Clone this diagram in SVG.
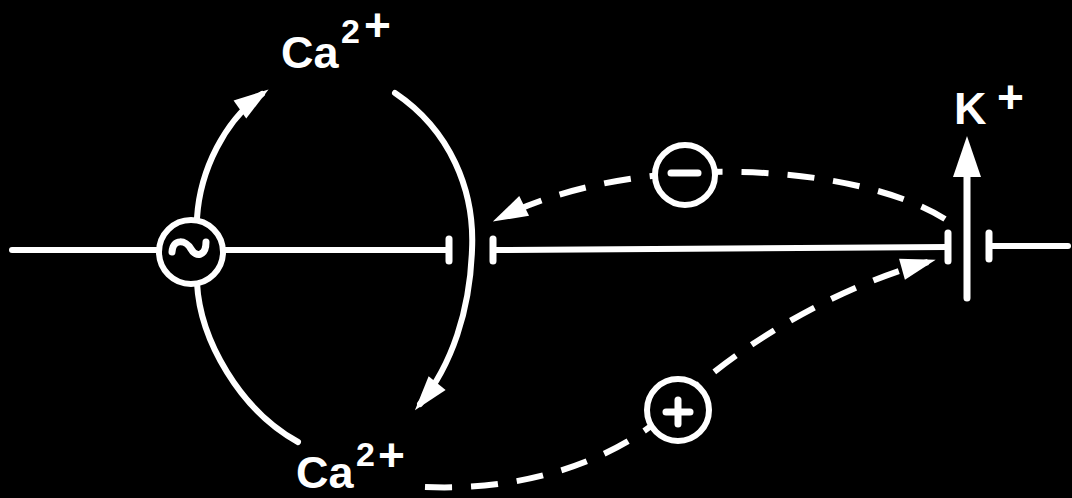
<svg xmlns="http://www.w3.org/2000/svg" width="1072" height="498" viewBox="0 0 1072 498">
<style>
.ln{fill:none;stroke:#fff;stroke-width:6;stroke-linecap:round}
.bar{fill:none;stroke:#fff;stroke-width:7;stroke-linecap:round}
.dash{fill:none;stroke:#fff;stroke-width:6;stroke-dasharray:27 19}
.node{fill:#000;stroke:#fff;stroke-width:6}
.sym{fill:none;stroke:#fff;stroke-width:7;stroke-linecap:round}
.lbl{fill:#fff;font-family:"Liberation Sans",Arial,sans-serif;font-weight:bold}
.big{font-size:45px}
.sup{font-size:34px}
.pl{font-size:46px}
</style>
<defs>
<marker id="ah" markerUnits="userSpaceOnUse" viewBox="-30 -15 40 30" markerWidth="40" markerHeight="30" refX="0" refY="0" orient="auto" overflow="visible">
<path d="M8,0 L-27,-11 L-27,11 Z" fill="#fff"/>
</marker>
</defs>
<rect width="1072" height="498" fill="#000"/>
<g id="connectors">
<line class="ln" x1="12" y1="250" x2="159" y2="250"/>
<line class="ln" x1="223" y1="250" x2="449" y2="250"/>
<line class="bar" x1="449" y1="239" x2="449" y2="261"/>
<line class="bar" x1="493" y1="239" x2="493" y2="261"/>
<line class="ln" x1="493" y1="250" x2="948" y2="247"/>
<line class="bar" x1="948" y1="233" x2="948" y2="261"/>
<line class="bar" x1="989" y1="233" x2="989" y2="259"/>
<line class="ln" x1="989" y1="246" x2="1068" y2="246"/>
<path class="ln" d="M197,218 C200,170 225,120 262,94" marker-end="url(#ah)"/>
<path class="ln" d="M395,93 C450,130 475,190 472,250 C470,310 452,365 420,404" marker-end="url(#ah)"/>
<path class="ln" d="M197,283 C200,340 240,410 298,442"/>
<path class="dash" d="M945,219 C860,165 640,148 500,218" marker-end="url(#ah)"/>
<path class="dash" d="M425,487 C540,492 628,452 676,405 C724,358 820,292 928,262" marker-end="url(#ah)"/>
<line x1="967" y1="298" x2="967" y2="172" stroke="#fff" stroke-width="7" stroke-linecap="round"/>
<polygon points="967,136 953,177 981,177" fill="#fff"/>
</g>
<g id="oscillator">
<circle class="node" cx="191" cy="252" r="32"/>
<path class="sym" stroke-width="6" d="M172,252 C173,238 186,240 191,249 C196,258 206,256 206,242"/>
</g>
<g id="minus">
<circle class="node" cx="685" cy="175" r="30"/>
<line class="sym" x1="671" y1="173" x2="698" y2="173"/>
</g>
<g id="plus">
<circle class="node" cx="678" cy="410" r="31"/>
<line class="sym" x1="666" y1="412" x2="690" y2="412"/>
<line class="sym" x1="678" y1="400" x2="678" y2="424"/>
</g>
<g id="ca-top">
<text class="lbl"><tspan class="big" x="281" y="68">Ca</tspan><tspan class="sup" x="341" y="43">2</tspan><tspan class="pl" x="364" y="41">+</tspan></text>
</g>
<g id="ca-bottom">
<text class="lbl"><tspan class="big" x="296" y="488">Ca</tspan><tspan class="sup" x="356" y="466">2</tspan><tspan class="pl" x="378" y="471">+</tspan></text>
</g>
<g id="k">
<text class="lbl"><tspan class="big" x="954" y="124">K</tspan><tspan class="pl" x="997" y="113">+</tspan></text>
</g>
</svg>
